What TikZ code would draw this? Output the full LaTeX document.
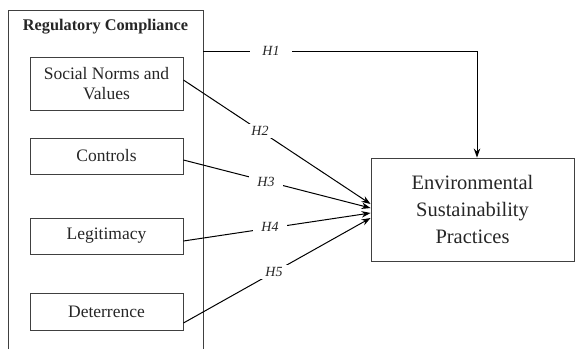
\documentclass[tikz,border=0pt]{standalone}
\usepackage{fontspec}
\setmainfont{Liberation Serif}
\usetikzlibrary{arrows.meta}
\begin{document}
\begin{tikzpicture}[x=1pt,y=-1pt,
  ink/.style={draw=black!75,line width=0.9pt},
  inbox/.style={ink,text=black!85,minimum width=153pt,inner sep=0pt,align=center,font=\fontsize{17.5}{20}\selectfont},
  conn/.style={draw=black,line width=1pt,-{Stealth[length=9pt,width=6.5pt]}},
  hlab/.style={fill=white,inner xsep=8pt,inner ysep=2pt,text=black!85,font=\fontsize{14}{16}\selectfont\itshape}]
\useasboundingbox (0,0) rectangle (575,349);
% outer open-bottom frame
\draw[ink] (8,349) -- (8,10) -- (203,10) -- (203,349);
\node[font=\fontsize{16.3}{19}\selectfont\bfseries,text=black!85] (title) at (105.5,27) {Regulatory Compliance};
\coordinate (h1s) at (203,51);
% inner boxes
\node[inbox,minimum height=53pt] (sn) at (106.5,83.5) {Social Norms and\\Values};
\node[inbox,minimum height=36pt] (ctl) at (106.5,156) {Controls};
\node[inbox,minimum height=36pt] (leg) at (106.5,236) {Legitimacy};
\node[inbox,minimum height=37pt] (det) at (106.5,311.5) {Deterrence};
% outcome box
\node[ink,text=black!85,minimum width=203pt,minimum height=103pt,inner sep=0pt,align=center,
  font=\fontsize{20.5}{26.7}\selectfont] (esp) at (472.5,209.5) {Environmental\\Sustainability\\Practices};
% connectors
\draw[conn] (h1s) -| ([xshift=4.5pt]esp.north);
\draw[conn] ([yshift=3.5pt]sn.east) -- ([yshift=5.5pt]esp.west);
\draw[conn] ([yshift=-4pt]ctl.east) -- ([yshift=1.5pt]esp.west);
\draw[conn] ([yshift=-5pt]leg.east) -- ([yshift=-3.5pt]esp.west);
\draw[conn] ([yshift=-11.5pt]det.east) -- ([yshift=-8.5pt]esp.west);
% labels
\node[hlab,inner xsep=12pt] (l1) at (271,51) {H1};
\node[hlab] (l2) at (260,131) {H2};
\node[hlab] (l3) at (266,182) {H3};
\node[hlab] (l4) at (270,227) {H4};
\node[hlab] (l5) at (274,272) {H5};
\end{tikzpicture}
\end{document}
